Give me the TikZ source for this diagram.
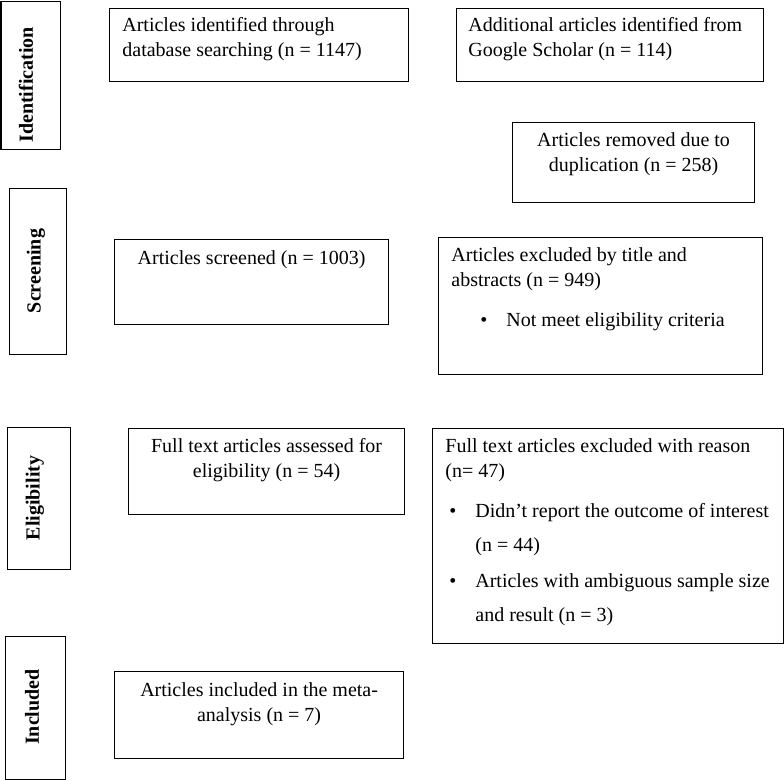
\documentclass[tikz,border=0pt]{standalone}
\usepackage{fontspec}
\setmainfont{Liberation Serif}
\usetikzlibrary{positioning}

\tikzset{
  box/.style 2 args={draw, line width=0.6pt, anchor=north west, inner sep=0pt,
    minimum width=#1*0.5pt, minimum height=#2*0.5pt},
  txt/.style={inner sep=0pt, font=\fontsize{10}{12.5}\selectfont},
  stage/.style={inner sep=0pt, font=\fontsize{10}{12.5}\selectfont\bfseries, rotate=90},
}
\newcommand{\blt}[1]{\makebox[#1][l]{\textbullet}}

\begin{document}
\begin{tikzpicture}[x=0.5pt,y=-0.5pt]
\useasboundingbox (0,0) rectangle (784,780);

% stage boxes
\node[box={59}{148}] (ident) at (0.5,1)   {};
\node[box={57}{166}] (scrn)  at (9,188)   {};
\node[box={63}{142}] (elig)  at (7,427)   {};
\node[box={60}{143}] (incl)  at (5,636)   {};

\node[stage] (identlbl) at (26,85)  {Identification};
\node[stage] (scrnlbl)  at (36,271) {Screening};
\node[stage] (eliglbl)  at (35,498) {Eligibility};
\node[stage] (incllbl)  at (32,707) {Included};

% flow boxes
\node[box={299}{73}]  (db)   at (109,8)   {};
\node[box={307}{73}]  (gs)   at (456,8)   {};
\node[box={242}{80}]  (dup)  at (512,122) {};
\node[box={274}{85}]  (scr)  at (114,239) {};
\node[box={324}{137}] (exa)  at (438,237) {};
\node[box={276}{86}]  (fta)  at (128,428) {};
\node[box={351}{215}] (exb)  at (432,428) {};
\node[box={289}{87}]  (meta) at (114,671) {};

% texts (base = last line)
\node[txt, align=left, anchor=base west] (dbtxt) at ([shift={(13,49)}]db.north west)
  {Articles identified through\\database searching (n = 1147)};
\node[txt, align=left, anchor=base west] (gstxt) at ([shift={(12,49)}]gs.north west)
  {Additional articles identified from\\Google Scholar (n = 114)};
\node[txt, align=center, anchor=base] (duptxt) at ([yshift=-50*0.5pt]dup.north)
  {Articles removed due to\\duplication (n = 258)};
\node[txt, align=center, anchor=base] (scrtxt) at ([yshift=-26*0.5pt]scr.north)
  {Articles screened (n = 1003)};
\node[txt, align=left, anchor=base west] (exatxt) at ([shift={(13,90)}]exa.north west)
  {Articles excluded by title and\\abstracts (n = 949)\\[7.5pt]
   \hspace*{14.5pt}\blt{13pt}Not meet eligibility criteria};
\node[txt, align=center, anchor=base] (ftatxt) at ([yshift=-50*0.5pt]fta.north)
  {Full text articles assessed for\\eligibility (n = 54)};
\node[txt, align=left, anchor=base west] (exbtxt) at ([shift={(13,194)}]exb.north west)
  {Full text articles excluded with reason\\(n= 47)\\[7.5pt]
   \hspace*{2pt}\blt{13pt}Didn’t report the outcome of interest\\[4.5pt]
   \hspace*{15pt}(n = 44)\\[5.5pt]
   \hspace*{2pt}\blt{13pt}Articles with ambiguous sample size\\[4.5pt]
   \hspace*{15pt}and result (n = 3)};
\node[txt, align=center, anchor=base] (metatxt) at ([yshift=-51*0.5pt]meta.north)
  {Articles included in the meta-\\analysis (n = 7)};

\end{tikzpicture}
\end{document}
